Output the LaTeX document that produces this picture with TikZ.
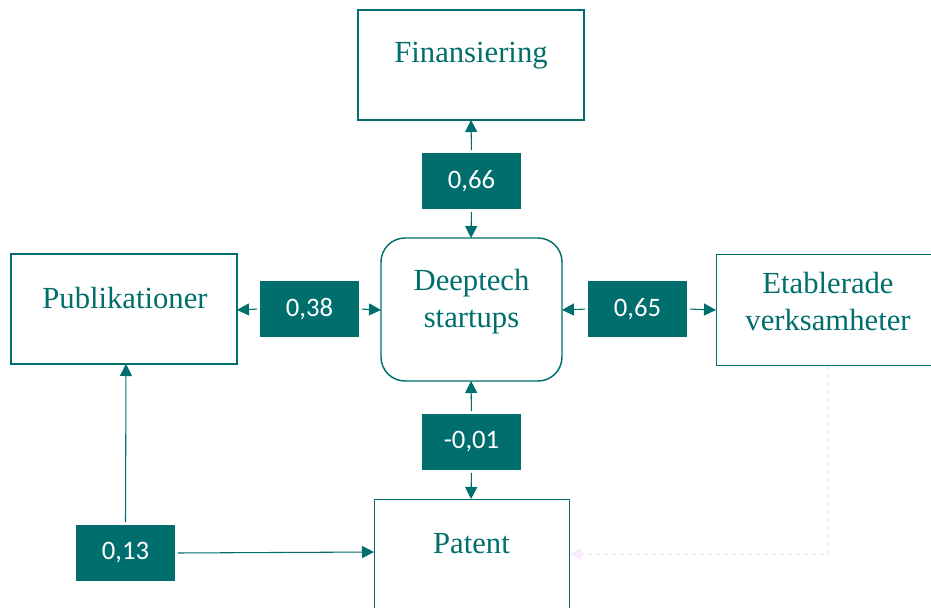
\documentclass[tikz,border=0pt]{standalone}
\usepackage{fontspec}
\setmainfont{Liberation Serif}
\newfontfamily\numfont{Carlito}
\usetikzlibrary{arrows.meta}
\definecolor{teal}{HTML}{006E6D}
\definecolor{faintpink}{HTML}{FBEAFB}
\tikzset{
  box/.style={draw=teal, line width=1.1pt, fill=white, inner sep=0pt},
  txt/.style={text=teal, font=\fontsize{23}{27.75}\selectfont, align=center, inner sep=0pt},
  lab/.style={fill=teal, draw=none, text=white, font=\numfont\fontsize{20}{22}\selectfont, minimum width=74.25pt, minimum height=42pt, inner sep=0pt},
  conn/.style={draw=teal, line width=0.8pt, -{Triangle[length=9pt,width=9pt]}, shorten <=2pt},
  faint/.style={draw=faintpink, line width=0.8pt, dashed, -{Triangle[length=9pt,width=9pt]}},
}
\begin{document}
\begin{tikzpicture}[x=0.75pt,y=-0.75pt]
\useasboundingbox (0,0) rectangle (931,607);
% boxes
\node[box, minimum width=169.5pt, minimum height=82.5pt] (fin) at (471,65) {};
\node[txt] (fintxt) at (471,56) {Finansiering};
\node[box, rounded corners=18pt, minimum width=135.75pt, minimum height=107.25pt] (deep) at (471.5,309.5) {};
\node[txt] (deeptxt) at (471.5,302) {Deeptech\\startups};
\node[box, minimum width=169.5pt, minimum height=82.5pt] (pub) at (124,309) {};
\node[txt] (pubtxt) at (125,298) {Publikationer};
\node[box, minimum width=180pt, minimum height=83.25pt, anchor=north west] (eta) at (716,254) {};
\node[txt] (etatxt) at (828,302) {Etablerade\\verksamheter};
\node[box, minimum width=146.25pt, minimum height=90pt, anchor=north west] (pat) at (374,499) {};
\node[txt] (pattxt) at (471.5,544) {Patent};
% labels
\node[lab] (l66) at (471.5,181) {0,66};
\node[lab] (l38) at (309.5,309) {0,38};
\node[lab] (l65) at (637.5,309) {0,65};
\node[lab] (l01) at (471.5,442) {-0,01};
\node[lab] (l13) at (125.5,553) {0,13};
% coordinates
\coordinate (finb) at (471,120);
\coordinate (deept) at (471,238);
\coordinate (deepb) at (471,381);
\coordinate (deepl) at (381,310);
\coordinate (deepr) at (562,310);
\coordinate (pubr) at (237,310);
\coordinate (pubb) at (126,364);
\coordinate (etal) at (716,310);
\coordinate (patt) at (471,499);
\coordinate (patl) at (374,552);
\coordinate (patr) at (569.5,554);
\coordinate (etab) at (828,366);
\coordinate (corner) at (828,554);
% connectors
\draw[conn] (l66.north) -- (finb);
\draw[conn] (l66.south) -- (deept);
\draw[conn] (l38.west) -- (pubr);
\draw[conn] (l38.east) -- (deepl);
\draw[conn] (l65.west) -- (deepr);
\draw[conn] (l65.east) -- (etal);
\draw[conn] (l01.north) -- (deepb);
\draw[conn] (l01.south) -- (patt);
\draw[conn] (l13.north) -- (pubb);
\draw[conn] (l13.east) -- (patl);
\draw[faint] (etab) -- (corner) -- (patr);
\end{tikzpicture}
\end{document}
